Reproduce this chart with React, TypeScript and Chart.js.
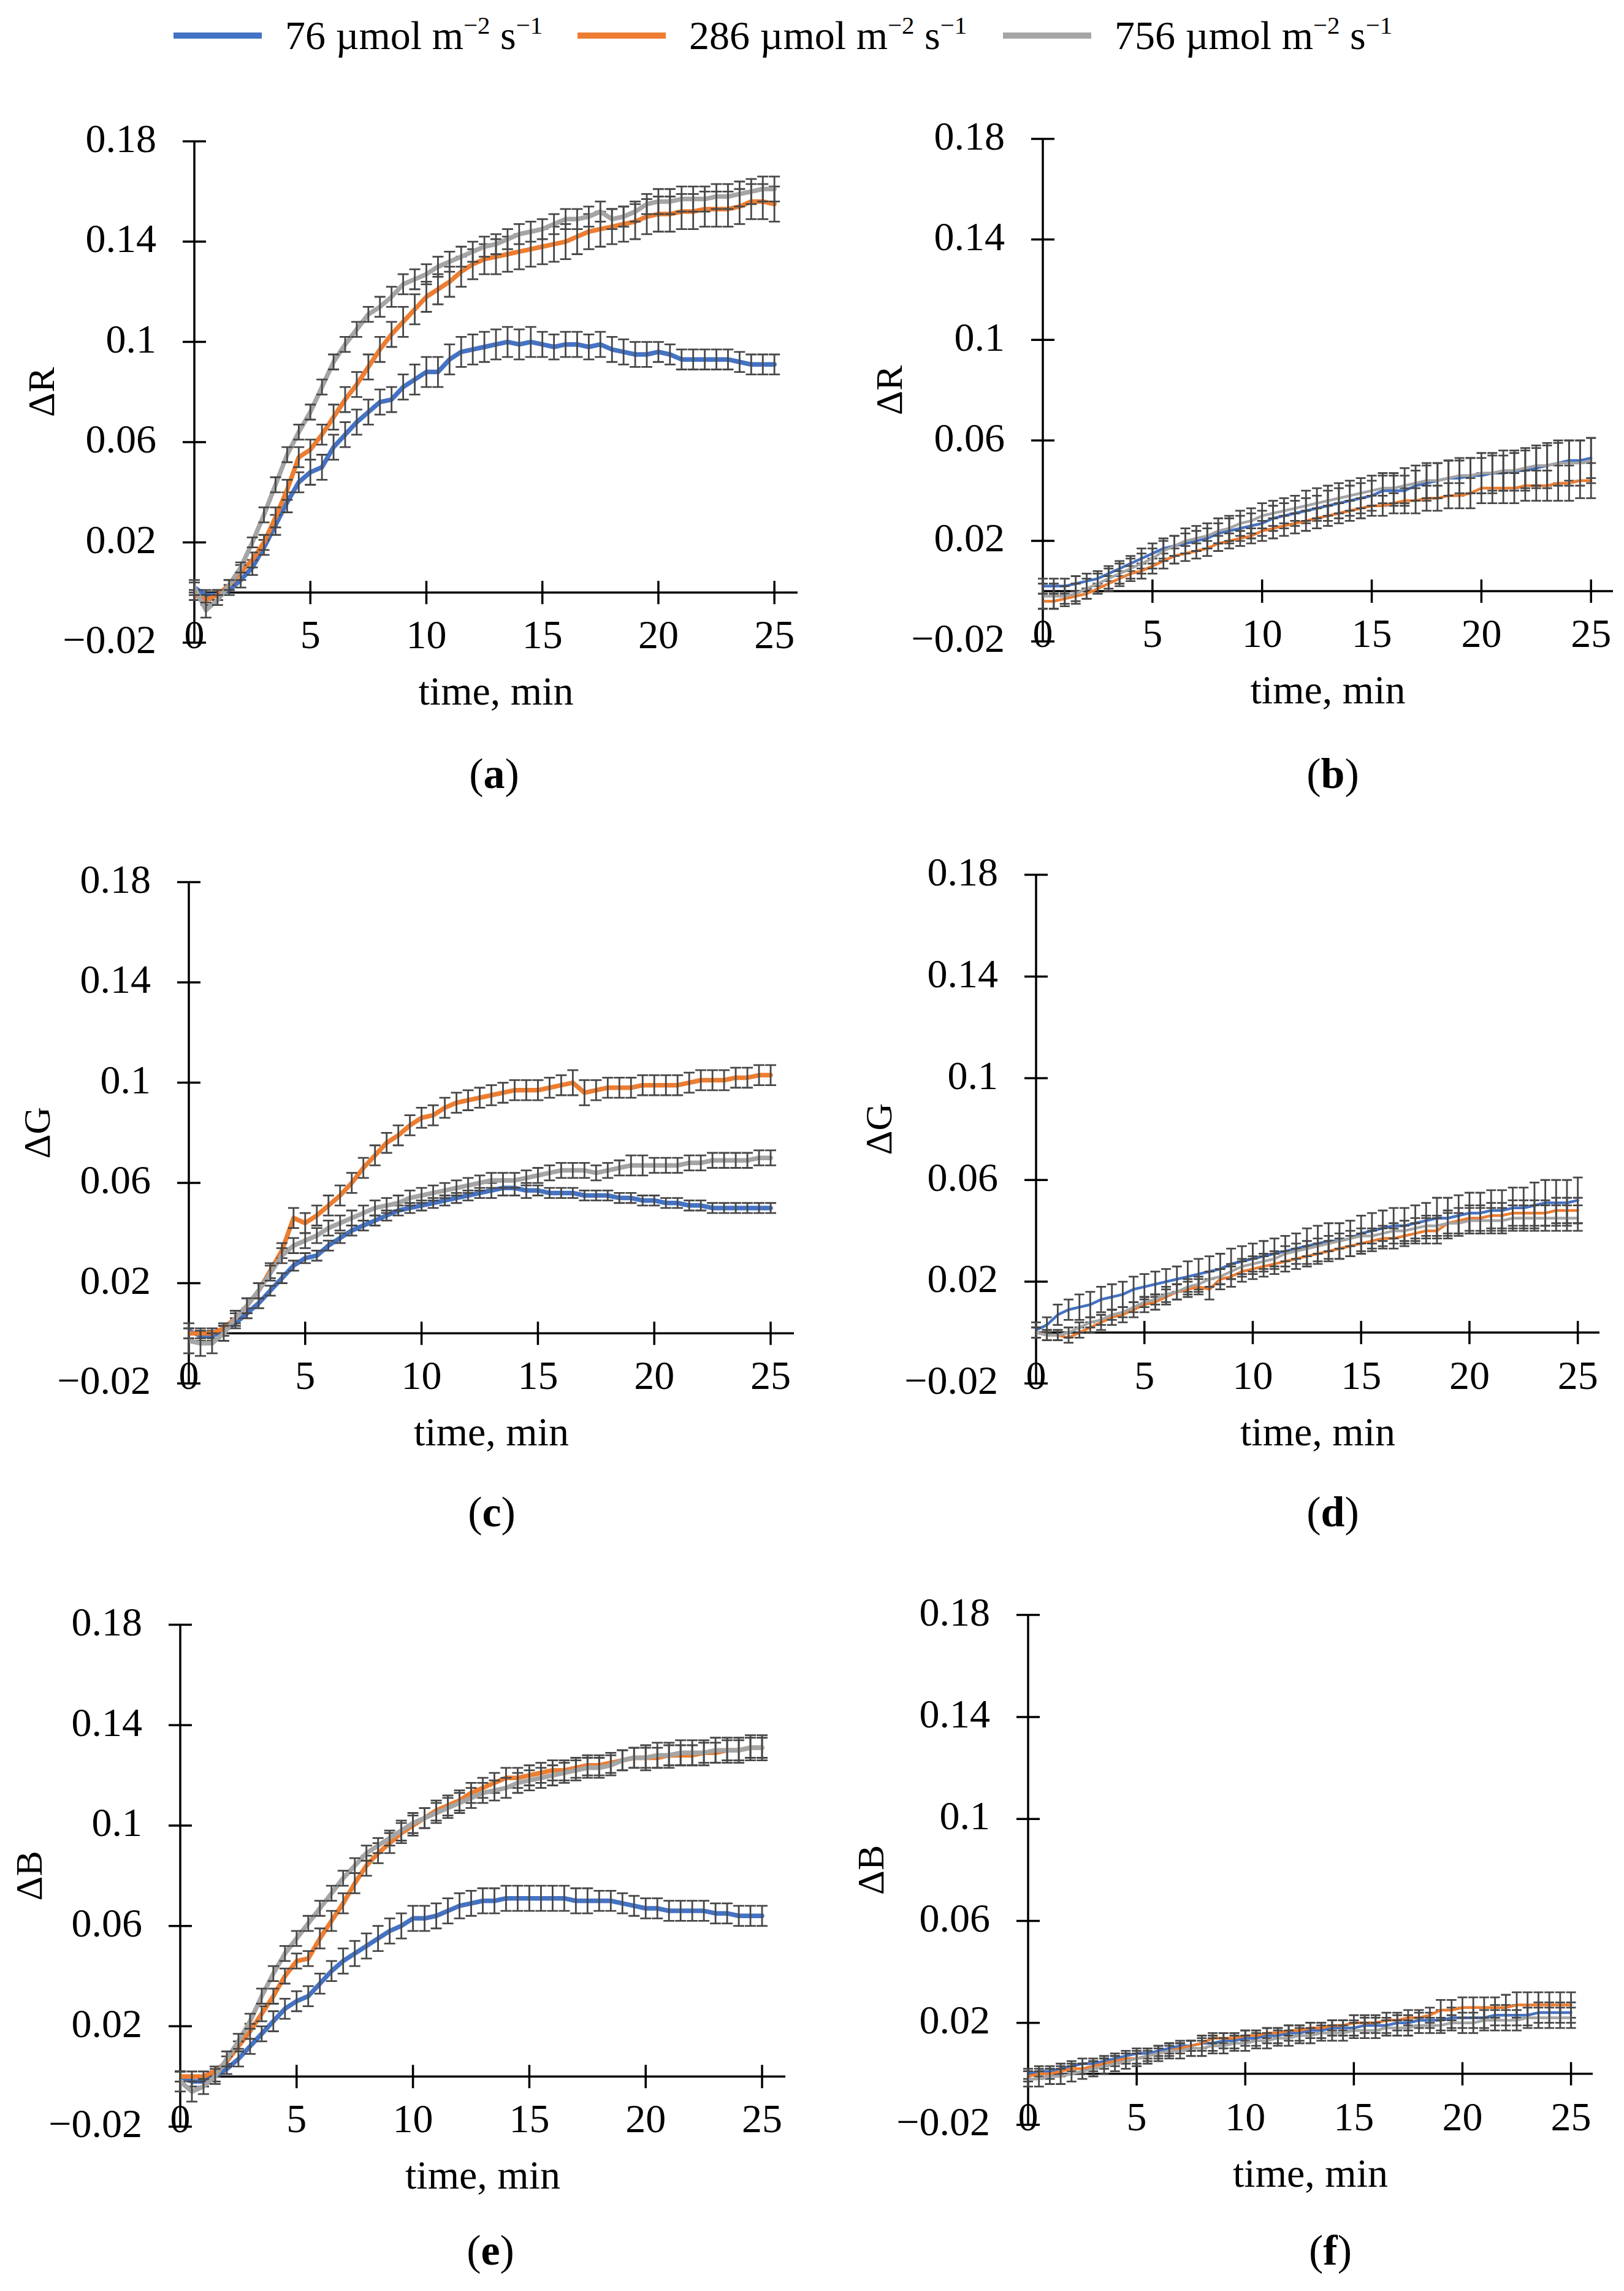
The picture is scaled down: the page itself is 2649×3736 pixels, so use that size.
import React, { useEffect, useRef } from 'react';
import { Chart, registerables } from 'chart.js';

Chart.register(...registerables);

// sampling times, min
const times = [
    0, 0.5, 1, 1.5, 2, 2.5, 3, 3.5, 4, 4.5,
    5, 5.5, 6, 6.5, 7, 7.5, 8, 8.5, 9, 9.5,
    10, 10.5, 11, 11.5, 12, 12.5, 13, 13.5, 14, 14.5,
    15, 15.5, 16, 16.5, 17, 17.5, 18, 18.5, 19, 19.5,
    20, 20.5, 21, 21.5, 22, 22.5, 23, 23.5, 24, 24.5,
    25,
];

const xTicks = [0, 5, 10, 15, 20, 25];
const xTickLabels = ['0', '5', '10', '15', '20', '25'];
const yTicks = [-0.02, 0.02, 0.06, 0.1, 0.14, 0.18];
const yTickLabels = ['\u22120.02', '0.02', '0.06', '0.1', '0.14', '0.18'];
const intensities = ['76', '286', '756'];

// (a) ΔR
const aBlue = [
    .002, -.001, -.001, .001, .005, .010, .018, .027, .036, .044,
    .048, .050, .058, .063, .068, .072, .076, .077, .082, .085,
    .088, .088, .093, .096, .097, .098, .099, .100, .099, .100,
    .099, .098, .099, .099, .098, .099, .097, .096, .095, .095,
    .096, .095, .093, .093, .093, .093, .093, .092, .091, .091,
    .091,
];
const aOrange = [
    -.001, -.003, -.001, .003, .008, .013, .020, .030, .041, .054,
    .057, .063, .070, .077, .083, .090, .097, .103, .108, .113,
    .118, .121, .124, .128, .131, .133, .134, .135, .136, .137,
    .138, .139, .140, .142, .144, .145, .146, .147, .148, .150,
    .151, .151, .152, .152, .153, .153, .153, .154, .156, .156,
    .155,
];
const aGray = [
    .002, -.007, -.003, .003, .010, .020, .031, .043, .055, .064,
    .072, .082, .092, .099, .105, .111, .114, .118, .123, .125,
    .127, .130, .132, .134, .136, .138, .139, .141, .143, .144,
    .145, .147, .149, .149, .150, .152, .149, .150, .152, .155,
    .156, .156, .157, .157, .157, .158, .158, .159, .160, .161,
    .161,
];
const aBlueErr = [
    .002, .002, .002, .002, .003, .003, .003, .004, .004, .004,
    .005, .005, .005, .005, .005, .005, .005, .005, .005, .006,
    .006, .006, .006, .006, .006, .006, .006, .006, .006, .006,
    .005, .005, .005, .005, .005, .005, .005, .005, .005, .005,
    .004, .004, .004, .004, .004, .004, .004, .004, .004, .004,
    .004,
];
const aOrangeErr = [
    .002, .002, .002, .002, .003, .003, .003, .004, .004, .004,
    .004, .004, .005, .005, .005, .005, .005, .005, .006, .006,
    .006, .006, .006, .006, .006, .006, .007, .007, .007, .007,
    .007, .007, .007, .007, .007, .007, .007, .007, .007, .007,
    .007, .007, .007, .007, .007, .007, .007, .007, .007, .007,
    .007,
];
const aGrayErr = [
    .003, .003, .002, .002, .002, .002, .003, .003, .003, .003,
    .003, .003, .003, .003, .003, .003, .004, .004, .004, .004,
    .004, .004, .004, .004, .004, .004, .004, .004, .004, .004,
    .004, .004, .004, .004, .004, .004, .004, .004, .004, .004,
    .005, .005, .005, .005, .005, .005, .005, .005, .005, .005,
    .005,
];

// (b) ΔR
const bBlue = [
    .002, .002, .002, .003, .004, .005, .007, .009, .011, .013,
    .015, .017, .018, .019, .020, .021, .023, .024, .025, .026,
    .027, .029, .030, .031, .032, .033, .034, .035, .036, .037,
    .038, .040, .040, .040, .042, .043, .044, .045, .045, .046,
    .046, .047, .047, .048, .048, .049, .050, .051, .052, .052,
    .053,
];
const bOrange = [
    -.004, -.004, -.003, -.002, -.001, .001, .003, .005, .007, .008,
    .010, .012, .014, .015, .016, .017, .019, .020, .021, .022,
    .024, .025, .026, .027, .028, .029, .030, .031, .032, .033,
    .034, .034, .035, .036, .036, .037, .037, .038, .038, .039,
    .041, .041, .041, .041, .042, .042, .042, .043, .043, .044,
    .044,
];
const bGray = [
    -.002, -.002, -.002, -.001, .001, .003, .005, .007, .009, .011,
    .013, .016, .018, .020, .021, .022, .024, .025, .027, .028,
    .030, .031, .032, .033, .034, .035, .036, .037, .038, .039,
    .040, .041, .041, .042, .043, .044, .044, .045, .046, .046,
    .047, .047, .048, .048, .049, .050, .050, .051, .051, .051,
    .052,
];
const bBlueErr = [
    .003, .003, .003, .003, .003, .003, .003, .003, .003, .004,
    .004, .004, .004, .004, .004, .004, .004, .005, .005, .005,
    .005, .005, .005, .005, .005, .005, .006, .006, .006, .006,
    .006, .006, .006, .006, .006, .007, .007, .007, .007, .007,
    .007, .007, .007, .007, .008, .008, .008, .008, .008, .008,
    .008,
];
const bOrangeErr = [
    .003, .003, .002, .002, .002, .002, .003, .003, .003, .003,
    .003, .003, .003, .003, .003, .003, .003, .003, .003, .003,
    .004, .004, .004, .004, .004, .004, .004, .004, .004, .004,
    .004, .004, .004, .005, .005, .005, .005, .005, .005, .006,
    .006, .006, .006, .006, .006, .006, .006, .007, .007, .007,
    .007,
];
const bGrayErr = [
    .005, .005, .004, .004, .004, .004, .004, .004, .004, .004,
    .004, .004, .004, .005, .005, .005, .005, .005, .005, .005,
    .005, .005, .005, .005, .006, .006, .006, .006, .006, .006,
    .006, .006, .006, .007, .007, .007, .007, .007, .007, .007,
    .008, .008, .008, .008, .008, .008, .009, .009, .009, .009,
    .009,
];

// (c) ΔG
const cBlue = [
    .001, -.001, -.001, .001, .004, .008, .012, .017, .022, .027,
    .030, .031, .035, .038, .041, .043, .045, .047, .049, .050,
    .051, .052, .053, .054, .055, .056, .057, .058, .058, .057,
    .057, .056, .056, .056, .055, .055, .055, .054, .054, .053,
    .053, .052, .052, .051, .051, .050, .050, .050, .050, .050,
    .050,
];
const cOrange = [
    .000, .000, .000, .002, .006, .011, .017, .025, .033, .046,
    .044, .047, .051, .055, .060, .066, .071, .076, .079, .083,
    .086, .087, .090, .092, .093, .094, .095, .096, .097, .097,
    .097, .098, .099, .100, .096, .097, .098, .098, .098, .099,
    .099, .099, .099, .100, .101, .101, .101, .102, .102, .103,
    .103,
];
const cGray = [
    -.003, -.004, -.004, .000, .006, .011, .017, .024, .031, .035,
    .037, .039, .042, .044, .046, .048, .050, .051, .052, .054,
    .055, .056, .057, .058, .059, .060, .061, .061, .061, .062,
    .063, .064, .065, .065, .065, .064, .065, .066, .067, .067,
    .067, .067, .067, .068, .068, .069, .069, .069, .069, .070,
    .070,
];
const cBlueErr = [
    .003, .002, .002, .002, .002, .002, .002, .002, .002, .002,
    .002, .002, .002, .002, .002, .002, .002, .002, .002, .002,
    .002, .002, .002, .002, .002, .002, .003, .003, .003, .003,
    .002, .002, .002, .002, .002, .002, .002, .002, .002, .002,
    .002, .002, .002, .002, .002, .002, .002, .002, .002, .002,
    .002,
];
const cOrangeErr = [
    .002, .002, .002, .002, .002, .003, .003, .003, .003, .004,
    .004, .004, .004, .004, .004, .004, .004, .004, .004, .004,
    .004, .004, .004, .004, .004, .004, .004, .004, .004, .004,
    .004, .004, .004, .005, .005, .004, .004, .004, .004, .004,
    .004, .004, .004, .004, .004, .004, .004, .004, .004, .004,
    .004,
];
const cGrayErr = [
    .005, .005, .004, .003, .003, .003, .003, .003, .003, .003,
    .003, .003, .003, .003, .003, .003, .003, .003, .003, .003,
    .003, .003, .003, .003, .003, .003, .003, .003, .003, .003,
    .003, .003, .003, .003, .003, .003, .003, .003, .004, .004,
    .003, .003, .003, .003, .003, .003, .003, .003, .003, .003,
    .003,
];

// (d) ΔG
const dBlue = [
    .001, .003, .007, .009, .010, .011, .013, .014, .015, .017,
    .018, .019, .020, .021, .022, .023, .024, .025, .027, .028,
    .029, .030, .031, .032, .033, .034, .035, .036, .036, .037,
    .039, .040, .041, .042, .042, .043, .044, .045, .045, .046,
    .047, .047, .048, .048, .049, .049, .050, .051, .051, .051,
    .052,
];
const dOrange = [
    .000, -.001, -.001, -.002, .000, .002, .004, .006, .007, .009,
    .011, .012, .014, .016, .017, .018, .017, .021, .022, .024,
    .025, .026, .027, .028, .029, .030, .031, .032, .033, .034,
    .035, .036, .037, .037, .038, .039, .040, .040, .043, .044,
    .045, .045, .046, .046, .047, .047, .047, .047, .048, .048,
    .048,
];
const dGray = [
    .000, -.001, -.001, .000, .002, .004, .005, .007, .008, .010,
    .012, .013, .015, .016, .018, .019, .021, .022, .024, .026,
    .027, .028, .029, .031, .032, .033, .034, .035, .036, .037,
    .038, .038, .039, .040, .040, .041, .042, .042, .043, .043,
    .044, .044, .044, .044, .045, .045, .045, .045, .045, .045,
    .045,
];
const dBlueErr = [
    .003, .003, .004, .004, .005, .005, .005, .005, .005, .005,
    .005, .005, .005, .005, .006, .006, .006, .006, .006, .006,
    .006, .006, .006, .006, .006, .007, .007, .007, .007, .007,
    .007, .007, .007, .007, .007, .007, .007, .008, .008, .008,
    .008, .008, .008, .008, .008, .008, .009, .009, .009, .009,
    .009,
];
const dOrangeErr = [
    .002, .002, .002, .002, .002, .002, .003, .003, .003, .003,
    .003, .003, .003, .003, .003, .003, .004, .004, .004, .004,
    .004, .004, .004, .004, .004, .004, .004, .004, .004, .004,
    .004, .004, .004, .004, .004, .004, .005, .005, .005, .005,
    .005, .005, .005, .005, .005, .005, .005, .005, .005, .005,
    .005,
];
const dGrayErr = [
    .002, .002, .002, .002, .002, .002, .002, .002, .002, .002,
    .002, .002, .003, .003, .003, .003, .003, .003, .003, .003,
    .003, .003, .003, .003, .003, .003, .003, .003, .003, .003,
    .003, .003, .003, .003, .004, .004, .004, .004, .004, .004,
    .005, .005, .005, .005, .005, .005, .005, .005, .005, .005,
    .005,
];

// (e) ΔB
const eBlue = [
    .000, -.002, -.002, .000, .003, .007, .012, .017, .022, .027,
    .030, .032, .037, .042, .046, .049, .052, .055, .058, .060,
    .063, .063, .064, .066, .068, .069, .070, .070, .071, .071,
    .071, .071, .071, .071, .070, .070, .070, .070, .069, .068,
    .067, .067, .066, .066, .066, .066, .065, .065, .064, .064,
    .064,
];
const eOrange = [
    .000, .000, .000, .002, .006, .012, .018, .025, .032, .040,
    .046, .047, .055, .062, .069, .077, .084, .089, .093, .097,
    .100, .103, .106, .108, .110, .113, .115, .117, .119, .119,
    .120, .121, .122, .122, .123, .124, .124, .125, .126, .127,
    .127, .127, .128, .128, .128, .129, .129, .130, .130, .131,
    .131,
];
const eGray = [
    -.002, -.006, -.004, .000, .007, .014, .022, .032, .041, .049,
    .055, .061, .067, .073, .079, .084, .089, .092, .095, .098,
    .101, .103, .105, .107, .109, .111, .113, .114, .115, .117,
    .118, .119, .120, .121, .122, .123, .123, .124, .126, .127,
    .127, .128, .128, .129, .129, .129, .130, .130, .130, .131,
    .131,
];
const eBlueErr = [
    .002, .002, .002, .002, .002, .003, .003, .003, .004, .004,
    .004, .004, .004, .004, .005, .005, .005, .005, .005, .005,
    .005, .005, .005, .005, .005, .005, .005, .005, .005, .005,
    .005, .005, .005, .005, .005, .005, .004, .004, .004, .004,
    .004, .004, .004, .004, .004, .004, .004, .004, .004, .004,
    .004,
];
const eOrangeErr = [
    .002, .002, .002, .002, .002, .002, .003, .003, .003, .003,
    .003, .003, .004, .004, .004, .004, .004, .004, .004, .004,
    .004, .004, .004, .004, .004, .004, .004, .004, .004, .004,
    .004, .004, .004, .004, .004, .004, .004, .004, .004, .004,
    .004, .004, .004, .004, .004, .004, .004, .004, .004, .004,
    .004,
];
const eGrayErr = [
    .004, .004, .003, .003, .003, .003, .003, .003, .003, .003,
    .003, .003, .003, .003, .003, .003, .003, .003, .003, .004,
    .004, .004, .004, .004, .004, .004, .004, .004, .004, .004,
    .004, .004, .004, .004, .004, .004, .004, .004, .004, .004,
    .005, .005, .005, .005, .005, .005, .005, .005, .005, .005,
    .005,
];

// (f) ΔB
const fBlue = [
    .000, .001, .001, .002, .003, .004, .004, .005, .006, .007,
    .008, .008, .009, .010, .011, .011, .012, .012, .013, .013,
    .014, .014, .015, .015, .016, .016, .017, .017, .018, .018,
    .018, .019, .019, .019, .020, .020, .021, .021, .021, .022,
    .022, .022, .022, .023, .023, .023, .023, .024, .024, .024,
    .024,
];
const fOrange = [
    -.001, .000, .000, .001, .002, .002, .003, .004, .005, .006,
    .006, .007, .008, .009, .010, .011, .012, .014, .014, .014,
    .015, .015, .016, .016, .017, .017, .018, .018, .019, .019,
    .020, .020, .020, .021, .021, .022, .022, .023, .025, .025,
    .026, .026, .026, .026, .026, .027, .027, .027, .027, .027,
    .027,
];
const fGray = [
    -.002, -.002, -.001, -.001, .000, .001, .002, .003, .004, .005,
    .006, .007, .008, .009, .009, .010, .010, .011, .011, .012,
    .012, .013, .013, .014, .014, .015, .015, .016, .016, .016,
    .017, .017, .017, .018, .018, .018, .019, .019, .019, .020,
    .020, .020, .021, .021, .021, .021, .022, .022, .022, .022,
    .022,
];
const fBlueErr = [
    .002, .002, .002, .002, .002, .002, .002, .002, .002, .002,
    .002, .002, .002, .002, .002, .002, .003, .003, .003, .003,
    .003, .003, .003, .003, .003, .003, .003, .003, .003, .003,
    .003, .003, .003, .003, .003, .003, .003, .003, .004, .004,
    .004, .004, .004, .004, .004, .004, .004, .004, .004, .004,
    .004,
];
const fOrangeErr = [
    .002, .002, .002, .002, .002, .002, .002, .002, .002, .002,
    .002, .002, .002, .002, .002, .002, .002, .002, .002, .002,
    .002, .002, .002, .002, .002, .002, .002, .002, .002, .002,
    .003, .003, .003, .003, .003, .003, .003, .003, .004, .004,
    .004, .004, .004, .004, .005, .005, .005, .005, .005, .005,
    .005,
];
const fGrayErr = [
    .003, .003, .003, .003, .003, .003, .003, .003, .003, .003,
    .003, .003, .003, .003, .003, .003, .003, .003, .003, .003,
    .003, .003, .003, .003, .003, .003, .003, .003, .003, .003,
    .003, .003, .003, .003, .003, .003, .003, .003, .003, .003,
    .004, .004, .004, .004, .004, .004, .004, .004, .004, .004,
    .004,
];

const FONT = '"Liberation Serif", "Times New Roman", serif';
const SERIES_COLORS = ['#4472C4', '#ED7D31', '#A5A5A5'];
const ERR_COLOR = '#474747';
const AXIS_COLOR = '#000000';

const PAD_TOP = 50;
const PAD_RIGHT = 45;
const X_AXIS_H = 140;
const TICK_FONT = 66;
const TICK_HALF = 19;

interface PanelSpec {
    caption: string;
    yTitle: string;
    values: number[][];
    errors: number[][];
    colLeft: number;
    left: number;
    right: number;
    top: number;
    bottom: number;
    yTitleX: number;
    lineWidth: number;
    capHalf: number;
    captionX: number;
    captionY: number;
}

const panels: PanelSpec[] = [
    { caption: 'a', yTitle: '\u0394R', values: [aBlue, aOrange, aGray], errors: [aBlueErr, aOrangeErr, aGrayErr],
        colLeft: 0, left: 317, right: 1301, top: 179, bottom: 1048, yTitleX: 72, lineWidth: 7.5, capHalf: 9, captionX: 806, captionY: 1262 },
    { caption: 'b', yTitle: '\u0394R', values: [bBlue, bOrange, bGray], errors: [bBlueErr, bOrangeErr, bGrayErr],
        colLeft: 1324, left: 1701, right: 2631, top: 175, bottom: 1046, yTitleX: 131, lineWidth: 4.5, capHalf: 8, captionX: 2174, captionY: 1262 },
    { caption: 'c', yTitle: '\u0394G', values: [cBlue, cOrange, cGray], errors: [cBlueErr, cOrangeErr, cGrayErr],
        colLeft: 0, left: 308, right: 1295, top: 1387, bottom: 2256, yTitleX: 65, lineWidth: 7.5, capHalf: 9, captionX: 802, captionY: 2466 },
    { caption: 'd', yTitle: '\u0394G', values: [dBlue, dOrange, dGray], errors: [dBlueErr, dOrangeErr, dGrayErr],
        colLeft: 1324, left: 1690, right: 2609, top: 1375, bottom: 2256, yTitleX: 114, lineWidth: 4.5, capHalf: 8, captionX: 2174, captionY: 2466 },
    { caption: 'e', yTitle: '\u0394B', values: [eBlue, eOrange, eGray], errors: [eBlueErr, eOrangeErr, eGrayErr],
        colLeft: 0, left: 294, right: 1281, top: 2598, bottom: 3468, yTitleX: 52, lineWidth: 7.5, capHalf: 9, captionX: 800, captionY: 3670 },
    { caption: 'f', yTitle: '\u0394B', values: [fBlue, fOrange, fGray], errors: [fBlueErr, fOrangeErr, fGrayErr],
        colLeft: 1324, left: 1677, right: 2598, top: 2582, bottom: 3465, yTitleX: 101, lineWidth: 4.5, capHalf: 8, captionX: 2170, captionY: 3670 },
];

const legendLefts = [283, 942, 1636];

// Excel style axes: lines crossing at zero, tick marks crossing the lines,
// x labels sitting on the bottom (-0.02) level
const crossAxes = {
    id: 'crossAxes',
    beforeDatasetsDraw(chart: any) {
        const { ctx, scales: { x, y } } = chart;
        const x0 = x.getPixelForValue(0);
        const y0 = y.getPixelForValue(0);
        ctx.save();
        ctx.strokeStyle = AXIS_COLOR;
        ctx.lineWidth = 3.5;
        ctx.beginPath();
        ctx.moveTo(x0, y0);
        ctx.lineTo(x.right, y0);
        ctx.moveTo(x0, y.top);
        ctx.lineTo(x0, y.bottom);
        x.ticks.forEach((t: any) => {
            const px = x.getPixelForValue(t.value);
            ctx.moveTo(px, y0 - TICK_HALF);
            ctx.lineTo(px, y0 + TICK_HALF);
        });
        y.ticks.forEach((t: any) => {
            const py = y.getPixelForValue(t.value);
            ctx.moveTo(x0 - TICK_HALF, py);
            ctx.lineTo(x0 + TICK_HALF, py);
        });
        ctx.stroke();

        ctx.fillStyle = '#000';
        ctx.font = `${TICK_FONT}px ${FONT}`;
        ctx.textAlign = 'center';
        ctx.textBaseline = 'middle';
        const labelY = y.getPixelForValue(y.min) - 8;
        x.ticks.forEach((t: any, i: number) => {
            ctx.fillText(xTickLabels[i], x.getPixelForValue(t.value), labelY);
        });
        ctx.restore();
    },
};

// symmetric error bars with caps, drawn right after each series
const errorBars = {
    id: 'errorBars',
    afterDatasetDraw(chart: any, args: any, opts: any) {
        const ds = chart.data.datasets[args.index];
        const errs: number[] | undefined = ds.errors;
        if (!errs) return;
        const { ctx } = chart;
        const yScale = chart.scales.y;
        const cap = opts.capHalf || 8;
        ctx.save();
        ctx.strokeStyle = ERR_COLOR;
        ctx.lineWidth = 2.8;
        ctx.beginPath();
        args.meta.data.forEach((pt: any, i: number) => {
            const v = ds.data[i].y;
            const top = yScale.getPixelForValue(v + errs[i]);
            const bot = yScale.getPixelForValue(v - errs[i]);
            ctx.moveTo(pt.x, top);
            ctx.lineTo(pt.x, bot);
            ctx.moveTo(pt.x - cap, top);
            ctx.lineTo(pt.x + cap, top);
            ctx.moveTo(pt.x - cap, bot);
            ctx.lineTo(pt.x + cap, bot);
        });
        ctx.stroke();
        ctx.restore();
    },
};

const PanelChart: React.FC<{ spec: PanelSpec }> = ({ spec }) => {
    const canvasRef = useRef<HTMLCanvasElement | null>(null);
    const width = spec.right - spec.colLeft + PAD_RIGHT;
    const height = spec.bottom - spec.top + PAD_TOP + X_AXIS_H;

    useEffect(() => {
        const ctx = canvasRef.current?.getContext('2d');
        if (!ctx) {
            return;
        }
        const tickFont = { family: FONT, size: TICK_FONT };
        const chart = new Chart(ctx, {
            type: 'line',
            data: {
                datasets: spec.values.map((vals, s) => ({
                    label: intensities[s],
                    data: times.map((t, i) => ({ x: t, y: vals[i] })),
                    errors: spec.errors[s],
                    borderColor: SERIES_COLORS[s],
                    backgroundColor: SERIES_COLORS[s],
                    borderWidth: spec.lineWidth,
                    borderJoinStyle: 'round',
                    borderCapStyle: 'round',
                    pointRadius: 0,
                    pointHoverRadius: 0,
                    tension: 0,
                    order: 3 - s,
                })) as any,
            },
            options: {
                animation: false,
                responsive: false,
                maintainAspectRatio: false,
                devicePixelRatio: 1,
                events: [],
                layout: { padding: { top: PAD_TOP, right: PAD_RIGHT, left: 0, bottom: 0 } },
                plugins: {
                    legend: { display: false },
                    tooltip: { enabled: false },
                    errorBars: { capHalf: spec.capHalf },
                } as any,
                scales: {
                    x: {
                        type: 'linear',
                        min: 0,
                        max: 26,
                        afterBuildTicks: (scale: any) => {
                            scale.ticks = xTicks.map((v) => ({ value: v }));
                        },
                        afterFit: (scale: any) => {
                            scale.height = X_AXIS_H;
                        },
                        grid: { display: false, drawTicks: false },
                        border: { display: false },
                        ticks: { display: false, font: tickFont, autoSkip: false, maxRotation: 0 },
                        title: {
                            display: true,
                            text: 'time, min',
                            color: '#000',
                            font: { family: FONT, size: TICK_FONT, lineHeight: 1 },
                            padding: { top: 0, bottom: X_AXIS_H - TICK_FONT / 2 - 84 },
                        },
                    },
                    y: {
                        type: 'linear',
                        min: -0.02,
                        max: 0.18,
                        afterBuildTicks: (scale: any) => {
                            scale.ticks = yTicks.map((v) => ({ value: v }));
                        },
                        afterFit: (scale: any) => {
                            scale.width = spec.left - spec.colLeft;
                        },
                        grid: { display: false, drawTicks: false },
                        border: { display: false },
                        ticks: {
                            font: tickFont,
                            color: '#000',
                            padding: 62,
                            autoSkip: false,
                            callback: (_v: any, i: number) => yTickLabels[i],
                        },
                        title: {
                            display: true,
                            text: spec.yTitle,
                            color: '#000',
                            font: { family: FONT, size: 62, lineHeight: 1 },
                            padding: { top: spec.yTitleX - 31, bottom: 0 },
                        },
                    },
                },
            } as any,
            plugins: [crossAxes, errorBars],
        });

        return () => {
            chart.destroy();
        };
    }, [spec]);

    return (
        <canvas
            ref={canvasRef}
            width={width}
            height={height}
            style={{ position: 'absolute', left: spec.colLeft, top: spec.top - PAD_TOP, width, height }}
        />
    );
};

const supStyle: React.CSSProperties = { fontSize: '0.62em', verticalAlign: '0.6em', lineHeight: 0 };

const Legend: React.FC = () => (
    <>
        {intensities.map((lab, s) => (
            <div
                key={lab}
                style={{
                    position: 'absolute',
                    left: legendLefts[s],
                    top: 18,
                    height: 80,
                    display: 'flex',
                    alignItems: 'center',
                    fontFamily: FONT,
                    fontSize: 66,
                    color: '#000',
                    whiteSpace: 'nowrap',
                }}
            >
                <span style={{ display: 'inline-block', width: 144, height: 10, background: SERIES_COLORS[s], marginRight: 38 }} />
                <span style={{ lineHeight: 1 }}>
                    {lab} µmol m<sup style={supStyle}>{'\u22122'}</sup> s<sup style={supStyle}>{'\u22121'}</sup>
                </span>
            </div>
        ))}
    </>
);

const App: React.FC = () => (
    <div style={{ position: 'absolute', left: 0, top: 0, width: 2649, height: 3736, background: '#fff', overflow: 'hidden' }}>
        <Legend />
        {panels.map((p) => (
            <React.Fragment key={p.caption}>
                <PanelChart spec={p} />
                <div
                    style={{
                        position: 'absolute',
                        left: p.captionX,
                        top: p.captionY,
                        transform: 'translate(-50%, -50%)',
                        fontFamily: FONT,
                        fontSize: 70,
                        lineHeight: 1,
                        color: '#000',
                    }}
                >
                    (<b>{p.caption}</b>)
                </div>
            </React.Fragment>
        ))}
    </div>
);

export default App;
